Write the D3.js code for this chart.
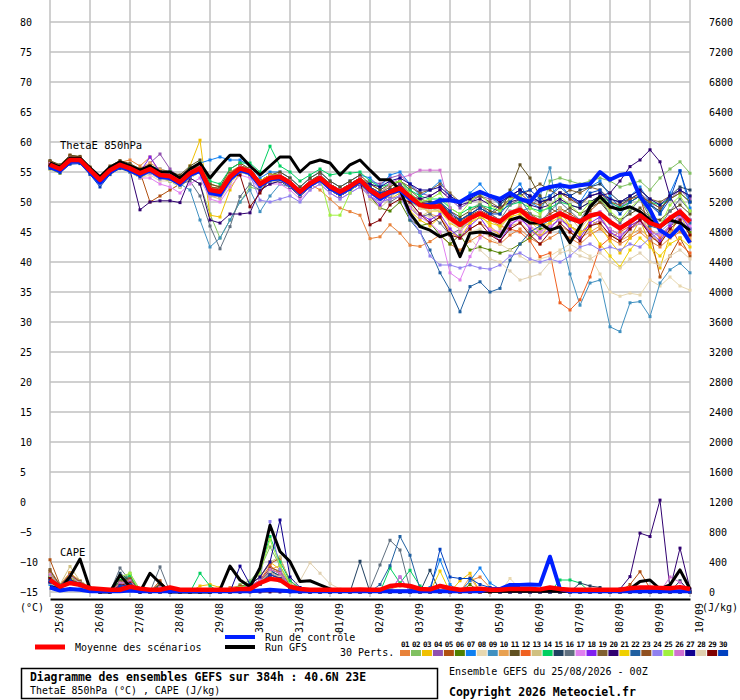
<!DOCTYPE html>
<html><head><meta charset="utf-8">
<script src="https://cdn.jsdelivr.net/npm/d3@7"></script>
<style>body{margin:0;background:#fff}svg{display:block}text{font-family:"DejaVu Sans Mono",monospace;fill:#000}</style>
</head><body><svg id="c" width="740" height="700"></svg>
<script>
// ---------------- DATA ----------------
const thetaTicks = [80,75,70,65,60,55,50,45,40,35,30,25,20,15,10,5,0,-5,-10,-15];
const capeTicks = [7600,7200,6800,6400,6000,5600,5200,4800,4400,4000,3600,3200,2800,2400,2000,1600,1200,800,400,0];
const dateLabels = ["25/08","26/08","27/08","28/08","29/08","30/08","31/08","01/09","02/09","03/09","04/09","05/09","06/09","07/09","08/09","09/09","10/09"];
const pertColors = ["#e8823a","#80c060","#f0c000","#9050b0","#b05010","#508000","#1080f0","#e8d8b0","#4090c0","#e8a050","#605020","#f06020","#d0c080","#00d060","#204060","#607080","#e080f0","#8020f0","#806030","#300070","#f0d000","#2060a0","#905020","#9080f0","#a0f040","#d070d0","#100090","#e0d0b0","#800000","#0040c0"];
const pertLabels = ["01","02","03","04","05","06","07","08","09","10","11","12","13","14","15","16","17","18","19","20","21","22","23","24","25","26","27","28","29","30"];

// ThetaE 850 hPa (°C), 6-hourly, 0..384h
const thetaMean = [56.2,55.5,57,57,55.3,53.7,55.3,56.2,55.6, 54.8,55.5,54.5,54.3,53.3,54.8,55.6,52,51.7,54.2, 55.6,55.1,53,54,54.2,53.2,51.7,53.1,54,52.6,51.7,52.6,53.7, 52,50.9,51.7,52.3,50.9,49.5,49.2,49.3,47.3,46.2,47.3,48.1,47.3, 46.7,48.1,48.7,47.3,46.7,47.3,48.1,47.3,46.7,47.7,48.1,46.7, 45.6,46.7,47.8,46.5,45.9,47.3,48.4,46.7];
const thetaControl = [55.8,55.2,56.7,56.8,55.0,53.2,55.0,56.0,55.3, 54.5,55.3,54.2,54.0,53.0,54.5,55.2,51.5,51.2,53.8, 55.3,54.8,52.7,53.8,54.0,53.0,51.5,52.8,53.8,52.3,51.4,52.3,53.5, 51.8,50.5,51.5,52.0,50.5,49.5,49.5,50.3,50.3,50.0,51.0,51.7,51.0, 50.5,51.5,50.5,50.0,52.0,52.5,52.8,52.5,52.8,53.0,55.0,53.7, 54.5,54.8,50.9,48.7,45.3,44.2,45.9,43.2];
const thetaGFS = [56.5,55.8,57.3,57.3,55.7,54.2,55.8,56.7,56.0, 55.3,56.0,55.0,55.0,54.0,55.5,56.5,54.0,56.0,57.8, 57.8,56.0,54.5,56.0,57.5,57.5,55.0,56.5,57.0,56.5,54.5,56.2,57.0, 55.3,53.7,53.7,52.0,48.1,45.9,45.3,44.2,44.8,40.9,44.8,45.0,44.8, 44.2,47.0,47.5,46.5,46.5,45.3,45.9,43.2,45.9,49.2,50.9,49.2, 48.7,49.2,48.4,47.0,45.9,47.0,46.5,45.3];
const thetaPerts = [
[56.5,55.8,57.4,57.2,55.6,54.0,55.6,56.6,57.0, 56.0,57.5,55.0,54.5,53.5,55.0,56.5,53.0,52.5,55.0, 56.0,55.5,53.5,54.5,54.5,53.5,52.0,53.0,52.0,50.5,49.0,48.4,47.8, 43.9,44.2,46.2,44.8,42.8,42.6,43.4,44.5,43.0,42.0,43.5,44.5,43.5, 43.0,44.5,45.5,44.0,43.0,44.0,45.0,44.0,43.0,44.5,45.5,44.0, 43.0,44.0,45.0,43.5,42.5,44.0,45.0,43.5],
[56.0,55.2,56.8,57.0,55.0,53.5,55.0,56.0,55.5, 54.5,55.0,54.0,53.5,53.0,54.0,53.0,48.0,44.0,47.0, 50.0,52.5,52.0,53.5,54.0,53.0,51.0,52.5,53.5,52.0,51.0,52.0,53.0, 51.5,50.5,51.0,52.0,50.0,49.0,49.0,48.5,47.0,45.5,47.0,48.0,47.0, 47.0,48.5,49.0,48.0,47.5,53.5,54.0,53.5,53.0,53.5,54.0,53.5, 52.5,53.0,53.5,52.0,54.0,55.5,56.7,54.8],
[55.8,55.0,56.5,56.8,55.0,53.2,55.0,56.0,55.2, 54.5,55.5,54.8,54.0,53.0,56.0,60.3,47.8,47.5,52.0, 55.0,55.0,53.0,54.0,54.5,53.5,52.0,53.0,54.0,53.0,52.0,53.0,54.0, 53.0,52.0,50.5,51.5,48.5,47.0,46.0,47.5,45.0,44.0,46.5,48.0,46.0, 44.5,47.0,49.5,46.0,44.0,46.5,48.5,46.0,44.5,47.0,46.0,43.5, 41.5,44.0,47.0,43.0,39.0,44.5,48.0,44.5],
[56.0,55.3,57.0,56.8,55.5,54.0,55.5,56.3,55.8, 55.0,56.5,58.0,55.5,54.0,55.0,55.5,51.5,51.0,54.0, 55.5,55.0,53.5,54.0,54.0,53.0,51.5,53.0,54.0,52.5,51.5,52.5,53.5, 53.5,53.0,54.0,54.5,53.0,51.5,51.0,52.0,50.5,49.0,50.0,51.0,50.5, 50.0,51.0,52.0,50.5,50.0,50.5,51.5,50.5,50.0,51.0,51.5,50.0, 49.0,50.5,51.5,50.0,49.0,50.5,52.0,50.5],
[56.8,56.0,57.8,57.5,55.8,54.0,55.8,56.8,56.0, 55.0,50.0,51.0,52.0,53.0,54.5,55.0,51.0,51.0,53.5, 55.0,55.0,53.0,54.0,54.0,53.0,51.5,53.0,54.0,52.5,51.5,52.5,53.5, 52.0,51.0,52.0,53.0,51.0,50.0,49.5,50.0,48.0,47.0,48.0,49.0,48.0, 47.0,48.0,49.0,48.0,47.0,48.0,49.0,48.0,47.0,48.5,50.0,49.0, 49.0,50.0,51.0,45.0,37.5,41.0,44.0,41.0],
[55.5,54.8,56.5,56.5,54.8,53.2,54.8,55.8,55.0, 54.0,55.0,54.0,53.5,52.5,54.0,55.0,51.5,51.0,53.5, 55.0,54.5,52.5,53.5,53.5,52.5,51.0,52.5,53.5,52.0,51.0,52.0,53.0, 51.0,49.0,48.5,50.0,47.0,46.0,46.5,44.5,43.0,44.5,42.0,42.5,42.0, 41.5,42.0,43.0,44.0,45.5,46.0,47.0,46.0,45.0,46.0,47.0,45.5, 44.5,45.5,46.5,45.0,44.5,46.0,47.0,45.0],
[56.3,55.6,57.2,57.2,55.5,54.0,55.5,56.4,56.3, 55.5,56.0,55.5,55.0,54.0,55.5,56.5,57.0,57.5,57.0, 57.0,56.0,54.0,55.0,55.0,54.0,52.5,54.0,55.0,53.5,52.5,53.5,54.5, 54.0,52.5,54.5,55.0,53.0,51.0,52.0,53.5,51.0,49.5,51.5,53.0,51.0, 49.5,51.5,53.0,50.0,49.0,51.0,53.0,51.0,50.0,52.5,53.5,51.0, 49.0,51.0,52.5,50.0,48.0,51.5,55.2,49.0],
[55.5,55.0,56.5,56.5,54.5,53.0,54.5,55.5,55.0, 54.0,54.5,53.5,53.5,52.5,54.0,55.0,51.5,51.0,53.5, 55.0,54.5,52.5,53.5,53.5,52.5,51.0,52.5,53.5,52.0,51.0,52.0,53.0, 51.0,50.0,50.5,51.0,49.5,48.0,47.5,47.5,45.5,44.0,45.0,45.5,44.0, 43.0,42.0,41.0,40.0,40.5,41.0,42.0,43.0,42.0,41.0,38.0,35.0, 34.3,34.8,34.5,37.0,36.0,37.5,36.0,35.3],
[56.0,55.3,56.8,56.8,55.0,53.5,55.0,56.0,55.5, 54.5,55.0,54.5,54.0,53.0,52.0,47.0,42.5,44.0,47.0, 50.0,52.0,48.4,51.0,53.0,52.5,51.0,52.5,53.5,52.0,51.0,52.0,53.0, 51.5,50.5,51.5,52.0,50.5,49.0,49.0,49.0,47.0,46.0,47.0,48.0,47.0, 46.5,48.0,48.5,49.0,51.0,55.7,45.0,38.0,32.8,36.5,37.0,29.2, 28.4,33.2,33.4,30.9,36.5,38.7,39.8,38.2],
[56.6,55.9,57.4,57.3,55.6,54.0,55.6,56.5,56.2, 55.6,56.5,55.5,55.0,54.0,55.5,56.0,53.0,52.5,55.0, 56.0,55.5,53.5,54.5,54.5,53.5,52.0,53.5,54.5,53.0,52.0,53.0,54.0, 52.5,51.5,52.0,52.5,51.0,49.5,48.0,47.5,45.0,44.0,45.5,46.5,45.5, 44.5,46.0,46.5,45.0,44.5,45.0,46.0,45.0,44.0,45.0,46.0,44.5, 43.5,44.5,45.5,44.0,43.5,45.0,46.0,44.0],
[56.9,56.2,57.8,57.6,55.8,54.2,56.0,56.9,56.4, 55.5,56.0,55.0,55.0,54.5,56.0,57.0,53.0,52.5,55.5, 56.5,55.5,53.5,54.5,55.0,54.0,52.5,54.0,55.0,53.5,52.5,53.5,54.5, 53.0,52.0,53.0,53.5,52.0,50.5,50.0,50.0,48.5,47.5,48.5,49.5,48.5, 48.0,52.0,56.2,54.0,51.0,49.0,48.0,49.0,48.0,49.0,50.0,48.0, 47.0,48.0,49.0,47.5,47.0,48.5,49.5,48.0],
[56.1,55.4,56.9,57.0,55.2,53.6,55.2,56.1,55.6, 54.8,55.5,54.5,54.2,53.2,54.8,55.5,52.0,51.8,54.0, 55.5,55.0,53.0,54.0,54.0,53.0,51.5,53.0,54.0,52.5,51.5,52.5,53.5, 52.0,51.0,51.5,52.0,50.5,49.0,49.0,49.0,47.0,46.0,47.0,48.0,47.0, 46.0,45.5,45.0,43.5,40.9,41.5,33.2,32.0,33.7,37.5,42.6,44.0, 45.0,46.0,47.0,45.5,44.0,46.0,43.0,41.5],
[55.8,55.1,56.6,56.7,54.9,53.3,54.9,55.9,55.3, 54.5,55.0,54.0,54.0,53.0,54.5,55.0,51.0,50.5,53.0, 55.0,54.5,52.5,53.5,53.5,52.5,51.0,52.5,53.5,52.0,51.0,52.0,53.0, 50.5,49.0,50.5,52.5,49.5,47.5,48.5,50.5,47.5,46.5,48.5,50.0,47.5, 45.5,48.0,49.5,47.0,45.0,46.5,49.0,47.5,45.5,47.5,48.0,45.0, 43.5,46.0,48.0,45.0,43.0,46.5,48.5,45.5],
[56.4,55.7,57.2,57.2,55.5,54.0,55.5,56.4,56.0, 55.2,56.0,55.0,55.0,54.0,55.5,56.5,53.5,53.0,55.5, 56.5,56.5,55.0,59.3,56.0,55.0,53.5,54.5,55.5,54.5,54.8,54.8,55.0, 53.5,52.5,53.0,53.5,52.0,51.0,50.5,50.5,49.0,48.0,49.0,49.5,49.0, 48.5,49.5,50.0,49.0,48.5,49.0,50.0,49.5,49.0,50.0,51.0,50.0, 49.0,50.0,51.0,50.0,49.5,50.5,51.5,50.0],
[56.2,55.5,57.0,57.0,55.3,53.7,55.3,56.2,55.6, 55.0,55.5,54.5,54.3,53.5,55.0,56.0,52.5,52.0,54.5, 56.0,55.5,53.5,54.5,54.5,53.5,52.0,53.5,54.5,53.0,52.0,53.0,54.0, 52.5,51.5,52.0,53.0,51.5,50.0,50.0,50.0,48.0,47.0,48.0,49.0,48.0, 49.5,51.0,52.0,51.0,50.0,50.5,51.5,51.0,52.0,52.5,53.0,51.5, 50.0,50.5,51.5,49.5,48.5,51.0,52.5,52.0],
[55.9,55.2,56.7,56.8,55.0,53.4,55.0,55.9,55.3, 54.5,55.0,54.0,54.0,53.0,53.5,51.0,46.0,42.2,45.9, 50.9,53.0,52.0,53.0,53.5,52.5,51.0,52.5,53.5,52.0,51.0,52.0,53.0, 52.5,51.5,50.0,51.0,49.0,47.5,48.0,46.5,44.5,45.5,47.5,49.5,48.0, 47.0,49.5,50.5,48.0,46.5,48.5,50.0,48.5,47.0,49.5,50.5,48.0, 46.5,48.5,50.5,47.5,46.0,48.5,50.5,48.5],
[56.5,55.8,57.3,57.1,55.4,53.8,55.4,56.3,55.8, 54.0,54.0,53.0,52.5,51.5,53.0,54.0,50.5,50.0,52.5, 54.5,54.0,52.0,53.0,53.0,52.0,50.5,52.0,53.0,51.5,50.5,51.5,52.5, 51.0,50.0,50.5,51.0,49.0,47.5,46.5,45.0,38.2,37.0,40.9,44.0,45.5, 45.0,46.5,47.0,46.0,45.0,46.0,47.0,46.0,45.0,46.0,47.0,45.5, 44.5,45.5,46.5,45.0,44.5,46.0,47.5,46.0],
[56.0,55.2,56.8,56.9,55.2,53.6,55.2,56.1,55.5, 55.0,57.5,55.0,54.5,53.5,55.0,55.5,52.0,51.5,54.0, 55.5,55.0,53.0,54.0,54.0,53.0,51.5,53.0,54.0,52.5,51.5,52.5,53.5, 51.0,49.5,51.5,53.0,50.0,48.0,47.0,48.0,45.5,44.0,46.0,47.5,45.0, 43.5,46.0,47.5,45.5,44.0,45.5,47.5,45.5,44.0,46.5,47.5,45.0, 44.0,46.0,47.0,45.0,43.5,46.0,48.0,45.5],
[56.7,56.0,57.6,57.4,55.7,54.1,55.7,56.6,56.1, 55.3,56.0,55.0,54.8,53.8,55.3,56.0,52.5,52.3,54.8, 56.0,55.5,53.5,54.5,54.5,53.5,52.0,53.5,54.5,53.0,52.0,53.0,54.0, 52.5,51.5,52.5,53.5,52.5,51.5,52.0,53.0,51.5,50.0,50.5,51.0,50.0, 49.0,50.5,51.0,52.0,53.0,52.0,51.0,52.0,51.5,52.5,52.0,50.5, 50.0,51.0,52.0,50.5,50.0,51.0,52.0,51.0],
[56.0,55.3,56.8,56.9,55.1,53.5,55.1,56.0,55.3, 48.7,50.0,50.2,50.2,49.9,54.0,53.0,47.0,46.5,48.0, 48.0,48.2,52.0,53.0,53.5,52.5,51.0,52.5,53.5,52.0,51.0,52.0,53.0, 51.5,50.5,51.0,52.0,51.0,50.5,51.0,52.0,50.5,49.5,50.0,50.5,49.5, 49.0,50.0,50.5,49.5,49.0,49.5,50.5,49.5,49.0,50.0,51.0,51.5, 53.5,55.9,57.0,58.7,56.7,50.9,48.0,47.0],
[56.3,55.6,57.1,57.1,55.4,53.8,55.4,56.3,55.7, 55.0,55.8,54.8,54.5,53.5,55.0,56.0,52.5,52.0,54.5, 56.0,55.5,53.5,54.5,54.5,53.5,52.0,53.0,54.0,52.5,51.5,52.5,53.5, 52.0,51.0,51.5,52.0,50.5,49.0,48.5,48.5,46.5,45.5,46.5,47.5,46.5, 46.0,47.5,48.0,46.5,46.0,46.5,47.5,46.0,45.0,45.5,43.0,41.0, 39.2,42.0,44.0,42.5,41.0,43.0,44.0,42.5],
[56.1,55.4,56.9,56.9,55.2,53.6,55.2,56.1,55.5, 54.7,55.3,54.3,54.1,53.1,54.6,55.4,51.8,51.5,54.0, 55.4,54.9,52.8,53.8,54.0,53.0,51.5,52.9,53.8,52.4,51.5,52.4,53.5, 51.8,50.7,51.5,52.0,47.0,45.0,42.0,38.2,35.3,31.7,35.9,36.7,35.0, 35.6,40.3,43.0,45.0,46.0,47.0,48.0,47.0,46.5,47.5,48.0,46.5, 45.5,46.5,47.5,46.0,45.5,47.0,48.0,46.5],
[56.6,55.9,57.5,57.4,55.6,54.0,55.6,56.5,56.0, 55.2,56.0,55.0,54.8,53.8,55.2,56.0,52.5,52.2,54.6, 56.0,55.5,53.3,54.3,54.5,53.5,52.0,53.4,54.4,53.0,52.0,53.0,54.0, 52.3,51.3,52.0,52.7,51.3,50.0,49.6,49.8,47.8,46.8,47.8,48.6,47.8, 49.0,50.5,51.5,50.0,49.5,50.5,51.5,50.5,49.5,51.0,51.5,50.0, 49.5,50.5,51.0,50.0,49.0,50.5,51.5,50.0],
[55.7,55.0,56.5,56.6,54.8,53.2,54.8,55.7,55.1, 54.3,54.8,53.8,53.8,52.8,54.3,55.0,51.3,51.0,53.5, 55.0,54.5,50.3,50.0,50.5,51.0,50.0,52.0,53.0,51.5,50.5,51.5,52.5, 51.0,50.0,50.5,51.0,47.5,45.0,41.0,39.5,39.5,39.0,39.5,39.0,38.8, 39.5,41.0,41.5,40.5,40.0,40.5,40.0,41.0,42.5,43.0,42.0,42.5, 42.0,43.0,42.5,44.0,45.0,46.5,47.0,45.5],
[56.3,55.6,57.1,57.1,55.4,53.8,55.4,56.3,55.7, 55.0,55.6,54.6,54.4,53.4,54.9,55.7,52.1,51.8,54.3, 55.7,55.2,53.1,54.1,54.3,53.3,51.8,53.2,54.0,47.8,47.8,51.5,53.8, 52.5,51.5,53.0,53.5,51.5,50.0,50.5,51.5,49.0,48.0,50.0,51.5,49.5, 48.5,50.5,51.0,49.0,48.0,49.5,51.0,49.5,48.0,50.0,50.5,48.5, 47.0,49.0,50.5,48.0,46.0,49.5,51.0,48.5],
[56.4,55.7,57.3,57.2,55.5,53.9,55.5,56.4,55.9, 55.1,55.8,54.8,54.6,53.6,55.1,55.9,52.3,52.0,54.5, 55.9,55.4,53.3,54.3,54.5,53.5,52.0,53.4,54.3,52.9,52.0,52.9,54.0, 52.3,51.5,53.0,54.0,54.5,55.3,55.3,55.3,49.0,45.0,47.0,48.5,47.6, 47.0,48.4,49.0,47.6,47.0,47.6,48.4,47.6,47.0,48.0,48.4,47.0, 46.0,47.0,48.0,46.8,46.2,47.6,48.7,47.0],
[55.9,55.2,56.7,56.8,55.0,53.4,55.0,55.9,55.3, 54.6,55.2,54.2,54.1,53.1,54.6,55.3,51.8,51.5,53.9, 55.3,54.8,52.8,53.8,54.0,53.0,51.5,52.9,53.8,52.4,51.5,52.4,53.5, 53.0,52.5,53.5,54.0,53.0,52.0,52.0,52.5,51.0,50.0,50.5,51.5,51.0, 50.0,51.0,52.0,51.0,50.0,50.5,51.5,51.0,50.0,51.0,51.5,50.5, 50.0,51.0,52.0,50.5,49.5,51.0,52.0,51.0],
[55.6,54.9,56.4,56.5,54.7,53.1,54.7,55.6,55.0, 54.2,54.9,53.9,53.7,52.7,54.2,55.0,51.4,51.1,53.6, 55.0,54.5,52.4,53.4,53.6,52.6,51.1,52.5,53.4,52.0,51.1,52.0,53.1, 51.4,50.3,51.1,51.7,50.3,48.9,48.6,48.7,46.7,45.6,44.0,42.0,40.5, 40.0,38.5,37.0,37.5,38.0,40.0,41.5,42.0,41.0,40.5,41.5,40.0, 39.0,40.5,41.5,40.0,39.5,41.0,42.0,40.5],
[56.2,55.5,57.0,57.0,55.3,53.7,55.3,56.2,55.6, 54.8,55.5,54.5,54.3,53.3,54.8,55.6,52.0,51.7,54.2, 54.5,49.2,51.5,54.0,54.2,53.2,51.7,53.1,54.0,52.6,51.7,52.6,53.7, 46.2,47.0,49.5,50.5,50.0,48.0,46.5,47.5,44.5,44.0,45.5,46.5,44.5, 43.5,45.5,46.5,44.5,43.0,45.0,46.5,45.0,43.5,46.0,46.5,44.5, 43.5,45.5,47.0,44.5,43.0,45.5,47.0,44.5],
[55.6,54.9,56.3,56.4,54.6,52.5,54.6,55.6,55.0, 54.2,55.0,54.0,53.8,52.8,54.3,55.0,51.5,51.2,53.7, 55.1,54.6,52.5,53.5,53.7,52.7,51.2,52.6,53.5,52.1,51.2,52.1,53.2, 52.5,51.5,52.0,52.5,51.0,49.5,49.5,50.0,48.5,47.0,48.0,49.0,48.0, 48.0,50.0,51.5,52.0,50.5,51.0,52.5,51.0,49.5,51.5,52.0,50.0, 48.0,50.0,51.0,49.5,48.0,50.5,55.2,50.0]
];

// CAPE (J/kg)
const capeMean = [160,70,120,95,50, 40,30,30,70,45, 30,30,60,30,30, 30,30,30,30,40, 40,120,175,160,70, 40,30,30,30,30, 30,35,30,30,80, 95,80,40,35,80, 50,30,40,45,30, 30,40,40,40,35, 60,40,30,30,30, 30,30,30,50,60, 60,55,50,65,40];
const capeControl = [60,20,40,30,10, 10,10,10,20,10, 10,10,10,10,10, 10,10,10,10,10, 10,20,30,20,10, 10,10,10,10,10, 10,10,10,10,10, 10,10,10,10,10, 10,10,10,10,40, 40,95,95,100,95, 470,40,10,10,10, 10,10,10,10,10, 10,10,10,10,10];
const capeGFS = [70,40,205,440,40, 0,0,225,70,0, 250,120,0,0,0, 0,0,30,345,160, 70,320,890,540,405, 140,150,95,40,10, 10,10,10,10,10, 10,10,10,10,10, 10,10,10,10,10, 10,10,10,10,10, 10,10,10,10,10, 10,10,10,40,140, 160,40,95,295,40];
const capePerts = [
[120,60,150,100,40, 0,0,80,120,0, 0,60,0,0,0, 0,0,0,60,80, 60,150,300,250,100, 30,0,0,0,0, 0,0,0,0,40, 80,60,30,0,0, 0,0,150,200,60, 0,0,0,0,0, 0,0,0,0,0, 0,0,0,0,20, 40,30,0,0,0],
[200,80,180,120,40, 0,0,150,250,30, 0,40,0,0,0, 0,0,0,0,100, 150,300,600,350,120, 40,0,0,0,0, 0,0,0,0,60, 120,80,30,0,0, 0,0,0,0,0, 0,0,0,0,0, 0,0,0,0,0, 0,0,0,0,0, 0,0,0,0,0],
[150,70,250,120,50, 0,0,100,100,0, 0,0,0,0,0, 80,100,60,0,60, 100,200,400,300,100, 30,0,0,0,0, 0,0,0,0,0, 0,0,0,0,0, 0,150,250,0,0, 0,0,0,0,0, 0,0,0,0,0, 0,0,0,0,0, 0,0,0,0,0],
[180,80,130,100,30, 0,0,60,150,0, 0,80,0,0,0, 0,0,0,0,50, 80,120,250,200,60, 0,0,0,0,0, 0,0,0,0,0, 0,0,0,0,0, 0,0,0,0,0, 0,0,0,0,0, 0,0,0,0,0, 0,0,0,0,0, 0,0,0,0,0],
[430,100,250,150,60, 0,0,120,200,0, 0,150,0,0,0, 0,0,0,0,80, 100,200,380,450,150, 40,0,0,0,0, 0,0,0,0,0, 0,0,0,0,0, 0,0,0,0,0, 0,0,0,0,0, 0,0,0,0,0, 0,0,0,100,270, 50,0,0,0,0],
[140,60,200,110,40, 0,0,90,60,0, 0,50,0,0,0, 0,0,0,0,40, 60,100,200,150,50, 0,0,0,0,0, 0,0,0,0,0, 0,0,0,0,0, 0,0,100,0,0, 0,0,0,0,0, 0,0,0,0,0, 0,0,0,0,0, 0,0,0,0,0],
[100,50,120,80,30, 0,0,60,80,0, 0,0,0,0,0, 0,0,0,0,40, 80,150,300,200,80, 0,0,0,0,0, 0,0,0,0,0, 0,0,0,60,430, 100,0,150,320,120, 40,0,0,0,0, 0,0,0,0,0, 0,0,0,0,0, 0,0,0,0,0],
[120,60,150,90,30, 0,0,80,70,0, 0,0,0,0,0, 0,0,0,0,30, 60,100,200,150,60, 0,0,0,0,0, 0,0,0,0,0, 0,0,0,0,0, 0,0,0,0,0, 0,180,40,0,0, 0,0,0,0,0, 0,0,0,0,0, 0,0,0,0,0],
[160,70,180,100,40, 0,0,100,120,0, 0,0,0,0,0, 0,0,0,0,50, 70,120,250,180,60, 0,0,0,0,0, 0,0,0,0,0, 0,0,0,0,0, 0,0,0,0,0, 0,0,0,0,0, 0,0,0,0,0, 0,0,0,0,0, 0,0,0,0,0],
[200,90,260,130,50, 0,0,110,180,0, 0,100,0,0,0, 0,0,0,0,60, 90,150,300,350,100, 0,0,0,0,0, 0,0,0,0,0, 0,0,0,0,0, 0,0,200,0,0, 0,0,0,0,0, 0,0,0,0,0, 0,0,0,0,0, 0,0,0,0,0],
[250,90,200,130,50, 0,0,150,200,0, 0,120,0,0,0, 0,0,0,0,0, 50,100,200,150,50, 0,0,0,0,0, 0,0,0,0,0, 0,0,0,0,0, 0,0,0,0,0, 0,0,0,0,0, 0,0,0,0,0, 0,0,0,0,0, 0,0,0,0,0],
[180,80,200,110,40, 0,0,100,130,0, 0,60,0,0,0, 0,0,0,0,50, 80,160,350,250,80, 0,0,0,0,0, 0,0,0,0,0, 0,0,0,0,0, 0,0,0,0,0, 0,0,0,0,0, 0,0,0,0,0, 0,0,0,0,0, 0,0,0,0,0],
[250,100,340,150,60, 0,0,130,180,0, 0,90,0,0,0, 0,0,0,0,60, 100,200,400,470,120, 30,0,0,0,0, 0,0,0,0,0, 0,0,0,0,0, 0,0,0,0,0, 0,0,0,0,0, 0,0,0,0,0, 0,0,0,0,0, 0,0,0,0,0],
[220,90,200,120,40, 0,0,150,220,0, 0,80,0,0,0, 250,80,0,0,60, 120,300,740,400,150, 50,0,0,0,0, 0,0,0,0,320, 120,290,80,0,0, 0,0,0,0,0, 0,0,0,0,0, 0,160,160,120,0, 0,0,0,0,0, 0,0,0,0,0],
[200,80,180,120,40, 0,0,250,150,0, 0,100,0,0,0, 0,0,0,0,40, 70,130,280,220,80, 0,0,0,0,0, 0,410,0,0,0, 0,0,0,290,0, 0,0,0,0,0, 0,0,0,0,0, 0,0,0,120,80, 60,0,0,0,0, 0,0,0,150,0],
[180,70,200,110,40, 0,0,320,150,0, 0,335,0,0,0, 0,0,0,0,0, 60,100,200,150,50, 0,0,0,0,0, 0,0,40,360,690, 560,40,0,0,0, 0,0,0,0,0, 0,0,0,0,0, 0,0,0,0,0, 0,0,0,0,0, 0,0,0,0,0],
[160,70,170,100,40, 0,0,80,90,0, 0,0,0,0,0, 0,0,0,0,40, 60,120,250,200,70, 0,0,0,0,0, 0,0,0,0,0, 200,0,0,0,0, 0,0,0,0,0, 0,0,0,0,0, 0,0,0,0,0, 0,0,0,0,0, 0,0,0,0,0],
[150,60,150,90,30, 0,0,70,80,0, 0,0,0,0,0, 0,0,0,0,40, 60,120,260,200,60, 0,0,0,0,0, 0,0,0,0,0, 0,0,0,0,0, 0,0,0,0,0, 0,0,0,0,0, 0,0,0,0,0, 0,0,0,0,0, 0,0,0,0,0],
[300,90,230,140,50, 0,0,140,180,0, 0,80,0,0,0, 0,0,0,0,50, 80,140,300,250,80, 0,0,0,0,0, 0,0,0,0,0, 0,0,0,0,0, 0,0,0,0,0, 0,0,0,0,0, 0,0,0,0,0, 0,0,0,0,0, 0,0,0,0,0],
[140,60,150,100,30, 0,0,80,100,0, 0,0,0,0,0, 0,0,0,0,0, 0,0,0,0,0, 0,0,0,0,0, 0,0,0,0,0, 0,0,0,0,0, 0,0,0,0,0, 0,0,0,0,0, 0,0,0,0,0, 0,0,40,205,785, 740,1225,40,585,40],
[170,70,180,110,40, 0,0,80,100,0, 0,0,0,0,0, 0,0,0,0,40, 70,130,260,200,60, 0,0,0,0,0, 0,0,0,0,0, 0,0,0,0,280, 0,0,0,0,0, 0,0,0,0,0, 0,0,0,0,0, 0,0,0,0,0, 0,0,0,0,0],
[190,80,200,120,40, 0,0,90,120,0, 0,0,0,0,0, 0,0,0,0,40, 70,120,260,200,70, 0,0,0,0,0, 0,0,0,100,350, 740,490,40,0,0, 0,0,0,0,0, 0,0,0,0,0, 0,0,0,0,0, 0,0,0,0,0, 0,0,0,0,0],
[280,90,220,130,50, 0,0,120,160,0, 0,70,0,0,0, 0,0,0,0,50, 80,150,320,280,90, 0,0,0,0,0, 0,0,0,0,0, 0,0,0,0,0, 0,0,0,0,0, 0,0,0,0,0, 0,0,0,0,0, 0,0,0,0,0, 0,0,0,0,0],
[150,60,170,100,40, 0,0,100,120,0, 0,0,0,0,0, 0,0,0,0,50, 80,160,940,300,60, 0,0,0,0,0, 0,0,0,0,0, 200,0,0,0,0, 0,0,0,0,0, 0,0,0,0,0, 0,0,0,0,0, 0,0,0,0,0, 0,0,0,0,0],
[220,80,200,120,40, 0,0,200,250,0, 0,60,0,0,0, 0,0,0,0,60, 100,250,700,350,100, 0,0,0,0,0, 0,0,0,0,0, 0,0,0,0,0, 0,0,0,0,0, 0,0,0,0,0, 0,0,0,0,0, 0,0,0,0,0, 0,0,0,0,0],
[230,80,220,120,40, 0,0,120,150,0, 0,60,0,0,0, 0,0,0,0,50, 80,150,300,250,80, 0,0,0,0,0, 0,0,0,0,0, 200,0,0,0,0, 0,0,0,0,0, 0,0,0,0,0, 0,0,0,0,0, 0,0,0,0,0, 0,0,200,130,0],
[130,60,160,100,30, 0,0,80,100,0, 0,0,0,0,0, 0,0,0,0,345, 100,200,400,960,200, 60,0,0,0,0, 0,0,0,0,0, 0,0,0,0,0, 0,0,0,0,0, 0,0,0,0,0, 0,0,0,0,0, 0,0,0,0,0, 0,0,0,0,0],
[160,70,180,100,40, 0,0,90,110,0, 0,0,0,0,0, 0,0,0,0,40, 70,130,260,200,80, 150,390,250,110,40, 0,0,0,0,0, 0,0,0,0,0, 0,0,0,0,0, 0,0,0,0,0, 0,0,0,0,0, 0,0,0,0,0, 0,0,0,0,0],
[180,70,170,110,40, 0,0,90,120,0, 0,0,0,0,0, 0,0,0,0,40, 60,110,230,180,60, 0,0,0,0,0, 0,0,0,0,0, 0,0,0,0,0, 0,0,0,0,0, 0,0,0,0,0, 0,0,0,0,0, 0,0,0,0,0, 0,0,0,0,0],
[150,60,160,100,30, 0,0,80,100,0, 0,0,0,0,0, 0,0,0,0,40, 60,110,230,180,60, 0,0,0,0,0, 0,0,0,0,0, 0,0,0,0,570, 200,180,180,100,60, 0,0,0,0,0, 0,0,0,0,0, 0,0,0,0,0, 0,0,0,0,0]
];

// ---------------- DRAW ----------------
const svg = d3.select("#c");
svg.append("rect").attr("width",740).attr("height",700).attr("fill","#fff");
const hours = d3.range(0, 385, 6);
const dayHours = dateLabels.map((d,i)=>i*24);
const x = d3.scaleLinear().domain([0,384]).range([50,690]);
const yT = d3.scaleLinear().domain([-15,80]).range([592,22]);
const yC = d3.scaleLinear().domain([0,7600]).range([592,22]);

// grid
const grid = svg.append("g").attr("stroke","#c0c0c0").attr("stroke-width",1.5);
grid.selectAll(".h").data(thetaTicks).join("line").attr("class","h")
  .attr("x1",50).attr("x2",690).attr("y1",d=>yT(d)).attr("y2",d=>yT(d));
grid.selectAll(".v").data(dayHours).join("line").attr("class","v")
  .attr("x1",d=>x(d)).attr("x2",d=>x(d)).attr("y1",0).attr("y2",597);

// left & right axes
const axL = svg.append("g").attr("transform","translate(20,0)")
  .call(d3.axisLeft(yT).tickValues(thetaTicks).tickFormat(d3.format("d")).tickSize(0).tickPadding(0));
axL.select(".domain").remove();
axL.selectAll("text").attr("text-anchor","start").attr("x",0).attr("font-size",10).attr("font-family","DejaVu Sans Mono");
const axR = svg.append("g").attr("transform","translate(709,0)")
  .call(d3.axisRight(yC).tickValues(capeTicks).tickFormat(d3.format("d")).tickSize(0).tickPadding(0));
axR.select(".domain").remove();
axR.selectAll("text").attr("font-size",10).attr("font-family","DejaVu Sans Mono");

// bottom time axis
const axB = svg.append("g").attr("transform","translate(0,599)")
  .call(d3.axisBottom(x).tickValues(dayHours).tickFormat((d,i)=>dateLabels[i]).tickSize(0).tickSizeOuter(0));
axB.select(".domain").attr("stroke","#000").attr("stroke-width",2);
axB.selectAll("text").attr("transform","rotate(-90)").attr("text-anchor","end")
  .attr("x",-4).attr("y",12).attr("dy",0).attr("font-size",10).attr("font-family","DejaVu Sans Mono");

svg.append("text").attr("x",20).attr("y",611).attr("font-size",10).text("(°C)");
svg.append("text").attr("x",702).attr("y",611).attr("font-size",10).text("(J/kg)");

const lineT = d3.line().x((d,i)=>x(hours[i])).y(d=>yT(d));
const lineC = d3.line().x((d,i)=>x(hours[i])).y(d=>yC(d));

const members = svg.append("g");
thetaPerts.forEach((arr,k)=>{
  const c = pertColors[k];
  const gm = members.append("g");
  gm.append("path").attr("d",lineC(capePerts[k])).attr("fill","none").attr("stroke",c).attr("stroke-width",1);
  gm.append("path").attr("d",lineT(arr)).attr("fill","none").attr("stroke",c).attr("stroke-width",1);
  gm.selectAll(".mt").data(arr).join("rect").attr("class","mt")
    .attr("x",(d,i)=>x(hours[i])-1.5).attr("y",d=>yT(d)-1.5).attr("width",3).attr("height",3).attr("fill",c);
  gm.selectAll(".mc").data(capePerts[k]).join("rect").attr("class","mc")
    .attr("x",(d,i)=>x(hours[i])-1.5).attr("y",d=>yC(d)-1.5).attr("width",3).attr("height",3).attr("fill",c);
});

// GFS, control, mean
[[thetaGFS,capeGFS,"#000",3],[thetaControl,capeControl,"#0020ff",4],[thetaMean,capeMean,"#ff0000",4.5]].forEach(([t,cp,c,w])=>{
  svg.append("path").attr("d",lineC(cp)).attr("fill","none").attr("stroke",c).attr("stroke-width",w).attr("stroke-linejoin","round");
  svg.append("path").attr("d",lineT(t)).attr("fill","none").attr("stroke",c).attr("stroke-width",w).attr("stroke-linejoin","round");
});

svg.append("text").attr("x",60).attr("y",149).attr("font-size",10.5).text("ThetaE 850hPa");
svg.append("text").attr("x",60).attr("y",556).attr("font-size",10.5).text("CAPE");

// legend
svg.append("line").attr("x1",35).attr("x2",65).attr("y1",647).attr("y2",647).attr("stroke","#ff0000").attr("stroke-width",5);
svg.append("text").attr("x",75).attr("y",651).attr("font-size",10).text("Moyenne des scénarios");
svg.append("line").attr("x1",225).attr("x2",255).attr("y1",637).attr("y2",637).attr("stroke","#0020ff").attr("stroke-width",4);
svg.append("text").attr("x",265).attr("y",641).attr("font-size",10).text("Run de contrôle");
svg.append("line").attr("x1",225).attr("x2",255).attr("y1",647).attr("y2",647).attr("stroke","#000").attr("stroke-width",4);
svg.append("text").attr("x",265).attr("y",651).attr("font-size",10).text("Run GFS");
svg.append("text").attr("x",340).attr("y",656).attr("font-size",10).text("30 Perts.");
svg.selectAll(".sw").data(pertColors).join("rect").attr("class","sw")
  .attr("x",(d,i)=>400+i*10.97).attr("y",650).attr("width",10).attr("height",6).attr("fill",d=>d);
svg.selectAll(".swl").data(pertLabels).join("text").attr("class","swl")
  .attr("x",(d,i)=>400+i*10.97+5).attr("y",647).attr("text-anchor","middle")
  .attr("font-size",7.5).attr("font-weight","bold").attr("letter-spacing",-0.5).text(d=>d);

// info boxes
svg.append("rect").attr("x",21.5).attr("y",668.5).attr("width",416).attr("height",30).attr("fill","none").attr("stroke","#000").attr("stroke-width",1.5);
svg.append("text").attr("x",30).attr("y",681).attr("font-size",11.4).attr("font-weight","bold").text("Diagramme des ensembles GEFS sur 384h : 40.6N 23E");
svg.append("text").attr("x",30).attr("y",694).attr("font-size",9.9).text("ThetaE 850hPa (°C) , CAPE (J/kg)");
svg.append("text").attr("x",449).attr("y",675).attr("font-size",10).text("Ensemble GEFS du 25/08/2026 - 00Z");
svg.append("text").attr("x",449).attr("y",696).attr("font-size",11.5).attr("font-weight","bold").text("Copyright 2026 Meteociel.fr");

// length check (debug)
const bad = [];
thetaPerts.forEach((a,i)=>{ if(a.length!==65) bad.push("T"+(i+1)+":"+a.length); });
capePerts.forEach((a,i)=>{ if(a.length!==65) bad.push("C"+(i+1)+":"+a.length); });
[["tm",thetaMean],["tc",thetaControl],["tg",thetaGFS],["cm",capeMean],["cc",capeControl],["cg",capeGFS]].forEach(([n,a])=>{ if(a.length!==65) bad.push(n+":"+a.length); });
if (bad.length) svg.append("text").attr("x",60).attr("y",60).attr("font-size",12).style("fill","red").text("LEN " + bad.join(" "));
</script></body></html>
